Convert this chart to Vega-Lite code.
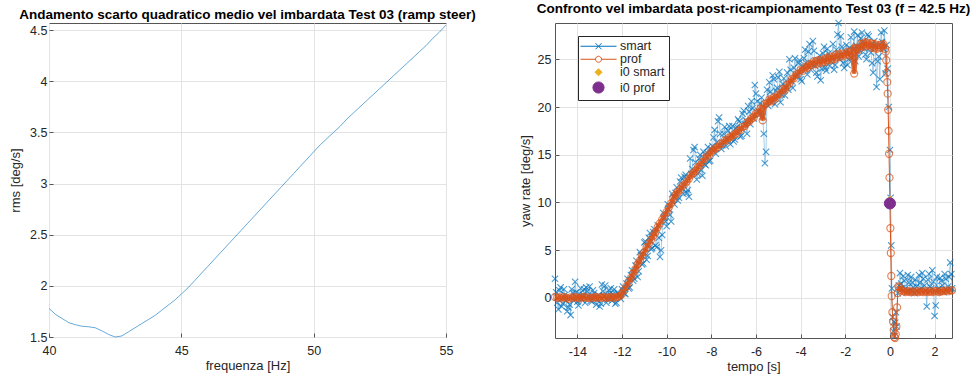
{
  "$schema": "https://vega.github.io/schema/vega-lite/v6.json",
  "background": "white",
  "padding": {"left": 9, "top": 1, "right": 0, "bottom": 0},
  "autosize": {"type": "pad"},
  "bounds": "flush",
  "spacing": 109,
  "config": {
    "font": "Liberation Sans",
    "view": {"stroke": "#555555", "strokeWidth": 1},
    "axis": {
      "domain": false,
      "grid": true,
      "gridColor": "#e3e3e3",
      "gridWidth": 1,
      "tickColor": "#555555",
      "tickSize": -4,
      "labelFlush": false,
      "labelColor": "#262626",
      "labelFontSize": 12.5,
      "titleFontSize": 13,
      "titleFontWeight": "normal",
      "titleColor": "#262626",
      "labelPadding": 6
    },
    "title": {"fontSize": 13.5, "fontWeight": "bold", "anchor": "middle", "offset": 2, "color": "#000000"},
    "legend": {"labelFontSize": 12.5, "labelColor": "#262626"}
  },
  "datasets": {
    "rms": [
      {"f": 40.0, "rms": 1.78}, {"f": 40.25, "rms": 1.72}, {"f": 40.5, "rms": 1.68}, {"f": 40.75, "rms": 1.64},
      {"f": 41.0, "rms": 1.62}, {"f": 41.25, "rms": 1.605}, {"f": 41.5, "rms": 1.6}, {"f": 41.75, "rms": 1.59},
      {"f": 42.0, "rms": 1.56}, {"f": 42.25, "rms": 1.525}, {"f": 42.5, "rms": 1.5}, {"f": 42.75, "rms": 1.51},
      {"f": 43.0, "rms": 1.55}, {"f": 43.25, "rms": 1.59}, {"f": 43.5, "rms": 1.63}, {"f": 43.75, "rms": 1.67},
      {"f": 44.0, "rms": 1.71}, {"f": 44.25, "rms": 1.76}, {"f": 44.5, "rms": 1.81}, {"f": 44.75, "rms": 1.86},
      {"f": 45.0, "rms": 1.92}, {"f": 45.25, "rms": 1.98}, {"f": 45.5, "rms": 2.05}, {"f": 45.75, "rms": 2.12},
      {"f": 46.0, "rms": 2.19}, {"f": 46.25, "rms": 2.26}, {"f": 46.5, "rms": 2.33}, {"f": 46.75, "rms": 2.4},
      {"f": 47.0, "rms": 2.47}, {"f": 47.25, "rms": 2.54}, {"f": 47.5, "rms": 2.61}, {"f": 47.75, "rms": 2.68},
      {"f": 48.0, "rms": 2.75}, {"f": 48.25, "rms": 2.82}, {"f": 48.5, "rms": 2.89}, {"f": 48.75, "rms": 2.96},
      {"f": 49.0, "rms": 3.03}, {"f": 49.25, "rms": 3.1}, {"f": 49.5, "rms": 3.17}, {"f": 49.75, "rms": 3.24},
      {"f": 50.0, "rms": 3.31}, {"f": 50.25, "rms": 3.38}, {"f": 50.5, "rms": 3.44}, {"f": 50.75, "rms": 3.5},
      {"f": 51.0, "rms": 3.56}, {"f": 51.25, "rms": 3.63}, {"f": 51.5, "rms": 3.69}, {"f": 51.75, "rms": 3.75},
      {"f": 52.0, "rms": 3.81}, {"f": 52.25, "rms": 3.87}, {"f": 52.5, "rms": 3.93}, {"f": 52.75, "rms": 3.99},
      {"f": 53.0, "rms": 4.05}, {"f": 53.25, "rms": 4.11}, {"f": 53.5, "rms": 4.17}, {"f": 53.75, "rms": 4.23},
      {"f": 54.0, "rms": 4.29}, {"f": 54.25, "rms": 4.35}, {"f": 54.5, "rms": 4.42}, {"f": 54.75, "rms": 4.48},
      {"f": 55.0, "rms": 4.55}
    ],
    "smart": [
      {"t": -15.0, "v": 2.0}, {"t": -14.9, "v": -0.5}, {"t": -14.8, "v": 0.8}, {"t": -14.7, "v": -0.9},
      {"t": -14.6, "v": 0.9}, {"t": -14.5, "v": -0.3}, {"t": -14.4, "v": -1.0}, {"t": -14.3, "v": -1.8},
      {"t": -14.2, "v": 0.5}, {"t": -14.1, "v": 1.7}, {"t": -14.0, "v": -0.4}, {"t": -13.9, "v": 0.4},
      {"t": -13.8, "v": -0.2}, {"t": -13.7, "v": 0.9}, {"t": -13.6, "v": 1.1}, {"t": -13.5, "v": 0.2},
      {"t": -13.4, "v": -0.3}, {"t": -13.3, "v": 0.8}, {"t": -13.2, "v": 0.1}, {"t": -13.1, "v": -0.2},
      {"t": -13.0, "v": -0.9}, {"t": -12.9, "v": 1.4}, {"t": -12.8, "v": 0.2}, {"t": -12.7, "v": -0.5},
      {"t": -12.6, "v": 0.8}, {"t": -12.5, "v": 1.0}, {"t": -12.4, "v": 0.4}, {"t": -12.3, "v": -0.6},
      {"t": -12.2, "v": 0.6}, {"t": -12.1, "v": 0.2}, {"t": -12.0, "v": 0.9}, {"t": -11.9, "v": 0.5},
      {"t": -11.8, "v": 1.5}, {"t": -11.7, "v": 1.0}, {"t": -11.6, "v": 2.4}, {"t": -11.5, "v": 1.8},
      {"t": -11.4, "v": 3.4}, {"t": -11.3, "v": 2.2}, {"t": -11.2, "v": 4.8}, {"t": -11.1, "v": 3.5},
      {"t": -11.0, "v": 5.8}, {"t": -10.9, "v": 4.0}, {"t": -10.8, "v": 6.3}, {"t": -10.7, "v": 5.1},
      {"t": -10.6, "v": 6.9}, {"t": -10.5, "v": 5.5}, {"t": -10.4, "v": 7.6}, {"t": -10.3, "v": 4.3},
      {"t": -10.2, "v": 6.6}, {"t": -10.1, "v": 8.4}, {"t": -10.0, "v": 7.5}, {"t": -9.9, "v": 9.3},
      {"t": -9.8, "v": 8.0}, {"t": -9.7, "v": 10.6}, {"t": -9.6, "v": 11.0}, {"t": -9.5, "v": 10.2},
      {"t": -9.4, "v": 12.2}, {"t": -9.3, "v": 11.5}, {"t": -9.2, "v": 12.7}, {"t": -9.1, "v": 11.0},
      {"t": -9.0, "v": 10.6}, {"t": -8.9, "v": 13.0}, {"t": -8.8, "v": 15.5}, {"t": -8.7, "v": 14.2},
      {"t": -8.6, "v": 13.0}, {"t": -8.5, "v": 15.0}, {"t": -8.4, "v": 12.8}, {"t": -8.3, "v": 14.0},
      {"t": -8.2, "v": 15.2}, {"t": -8.1, "v": 14.3}, {"t": -8.0, "v": 15.6}, {"t": -7.9, "v": 16.8},
      {"t": -7.8, "v": 15.1}, {"t": -7.7, "v": 18.5}, {"t": -7.6, "v": 17.2}, {"t": -7.5, "v": 16.0},
      {"t": -7.4, "v": 17.9}, {"t": -7.3, "v": 16.6}, {"t": -7.2, "v": 18.0}, {"t": -7.1, "v": 17.1},
      {"t": -7.0, "v": 16.4}, {"t": -6.9, "v": 17.8}, {"t": -6.8, "v": 18.7}, {"t": -6.7, "v": 16.9},
      {"t": -6.6, "v": 19.3}, {"t": -6.5, "v": 18.2}, {"t": -6.4, "v": 17.2}, {"t": -6.3, "v": 19.5},
      {"t": -6.2, "v": 20.6}, {"t": -6.1, "v": 18.8}, {"t": -6.0, "v": 21.4}, {"t": -5.9, "v": 19.6},
      {"t": -5.8, "v": 20.4}, {"t": -5.7, "v": 19.0}, {"t": -5.65, "v": 17.2}, {"t": -5.6, "v": 14.1},
      {"t": -5.55, "v": 15.3}, {"t": -5.5, "v": 21.8}, {"t": -5.4, "v": 22.6}, {"t": -5.3, "v": 20.5},
      {"t": -5.2, "v": 22.9}, {"t": -5.1, "v": 21.7}, {"t": -5.0, "v": 23.1}, {"t": -4.9, "v": 20.5},
      {"t": -4.8, "v": 22.4}, {"t": -4.7, "v": 21.2}, {"t": -4.6, "v": 23.6}, {"t": -4.5, "v": 25.0},
      {"t": -4.4, "v": 22.7}, {"t": -4.3, "v": 24.1}, {"t": -4.2, "v": 23.2}, {"t": -4.1, "v": 24.6},
      {"t": -4.0, "v": 22.9}, {"t": -3.9, "v": 24.3}, {"t": -3.8, "v": 26.0}, {"t": -3.7, "v": 23.4},
      {"t": -3.6, "v": 26.6}, {"t": -3.5, "v": 24.5}, {"t": -3.4, "v": 25.9}, {"t": -3.3, "v": 23.6},
      {"t": -3.2, "v": 24.9}, {"t": -3.1, "v": 22.8}, {"t": -3.0, "v": 25.6}, {"t": -2.9, "v": 24.1},
      {"t": -2.8, "v": 26.1}, {"t": -2.7, "v": 24.3}, {"t": -2.6, "v": 25.2}, {"t": -2.5, "v": 23.9},
      {"t": -2.4, "v": 26.0}, {"t": -2.3, "v": 28.8}, {"t": -2.2, "v": 27.4}, {"t": -2.1, "v": 24.6},
      {"t": -2.0, "v": 25.8}, {"t": -1.9, "v": 24.4}, {"t": -1.8, "v": 26.2}, {"t": -1.7, "v": 25.1},
      {"t": -1.6, "v": 27.9}, {"t": -1.5, "v": 26.4}, {"t": -1.4, "v": 25.3}, {"t": -1.3, "v": 27.2},
      {"t": -1.2, "v": 26.8}, {"t": -1.1, "v": 25.5}, {"t": -1.0, "v": 27.6}, {"t": -0.9, "v": 26.2},
      {"t": -0.8, "v": 24.6}, {"t": -0.7, "v": 26.9}, {"t": -0.6, "v": 22.1}, {"t": -0.5, "v": 25.3},
      {"t": -0.4, "v": 27.8}, {"t": -0.3, "v": 26.1}, {"t": -0.25, "v": 28.0}, {"t": -0.2, "v": 23.5},
      {"t": -0.15, "v": 26.5}, {"t": -0.1, "v": 24.0}, {"t": -0.05, "v": 20.0}, {"t": 0.0, "v": 15.5},
      {"t": 0.03, "v": 10.5}, {"t": 0.06, "v": 5.5}, {"t": 0.09, "v": 1.0}, {"t": 0.12, "v": -2.0},
      {"t": 0.15, "v": -3.5}, {"t": 0.18, "v": -2.5}, {"t": 0.21, "v": -4.0}, {"t": 0.24, "v": -2.6},
      {"t": 0.27, "v": -1.5}, {"t": 0.3, "v": -3.0}, {"t": 0.35, "v": 0.5}, {"t": 0.4, "v": 1.3},
      {"t": 0.45, "v": 2.6}, {"t": 0.5, "v": 1.5}, {"t": 0.6, "v": 2.3}, {"t": 0.7, "v": 1.0},
      {"t": 0.8, "v": 2.4}, {"t": 0.9, "v": 0.8}, {"t": 1.0, "v": 1.6}, {"t": 1.1, "v": 0.5},
      {"t": 1.2, "v": 1.2}, {"t": 1.3, "v": 2.4}, {"t": 1.4, "v": 1.0}, {"t": 1.5, "v": 2.0},
      {"t": 1.6, "v": 0.8}, {"t": 1.7, "v": 1.9}, {"t": 1.8, "v": 1.2}, {"t": 1.9, "v": 2.9},
      {"t": 2.0, "v": -1.9}, {"t": 2.05, "v": -0.8}, {"t": 2.1, "v": 2.2}, {"t": 2.2, "v": 1.0},
      {"t": 2.3, "v": 1.8}, {"t": 2.4, "v": 0.6}, {"t": 2.5, "v": 2.0}, {"t": 2.6, "v": 1.2},
      {"t": 2.7, "v": 3.7}, {"t": 2.75, "v": 2.5}, {"t": 2.78, "v": 1.0},
      {"t": -14.95, "v": 0.6}, {"t": -14.85, "v": -1.2}, {"t": -14.75, "v": 1.1}, {"t": -14.65, "v": -0.6},
      {"t": -14.55, "v": 0.3}, {"t": -14.45, "v": -1.4}, {"t": -14.35, "v": -0.7}, {"t": -14.25, "v": 0.9},
      {"t": -14.15, "v": -0.3}, {"t": -14.05, "v": 0.6}, {"t": -13.95, "v": -0.8}, {"t": -13.85, "v": 1.0},
      {"t": -13.75, "v": 0.3}, {"t": -13.65, "v": -0.5}, {"t": -13.55, "v": 0.7}, {"t": -13.45, "v": 1.2},
      {"t": -13.35, "v": -0.4}, {"t": -13.25, "v": 0.5}, {"t": -13.15, "v": -0.7}, {"t": -13.05, "v": 0.3},
      {"t": -12.95, "v": -0.6}, {"t": -12.85, "v": 0.7}, {"t": -12.75, "v": 1.3}, {"t": -12.65, "v": -0.2},
      {"t": -12.55, "v": 0.4}, {"t": -12.45, "v": -0.3}, {"t": -12.35, "v": 0.9}, {"t": -12.25, "v": -0.5},
      {"t": -12.15, "v": 0.3}, {"t": -12.05, "v": -0.1},
      {"t": -11.95, "v": 1.2}, {"t": -11.85, "v": 0.4}, {"t": -11.75, "v": 2.0}, {"t": -11.65, "v": 1.1},
      {"t": -11.55, "v": 2.9}, {"t": -11.45, "v": 2.0}, {"t": -11.35, "v": 3.9}, {"t": -11.25, "v": 2.8},
      {"t": -11.15, "v": 4.5}, {"t": -11.05, "v": 3.6}, {"t": -10.95, "v": 5.9}, {"t": -10.85, "v": 4.4},
      {"t": -10.75, "v": 6.8}, {"t": -10.65, "v": 5.2}, {"t": -10.55, "v": 7.2}, {"t": -10.45, "v": 5.3},
      {"t": -10.35, "v": 6.3}, {"t": -10.25, "v": 5.0}, {"t": -10.15, "v": 8.9}, {"t": -10.05, "v": 8.0},
      {"t": -9.95, "v": 9.8}, {"t": -9.85, "v": 8.7}, {"t": -9.75, "v": 10.9}, {"t": -9.65, "v": 9.8},
      {"t": -9.55, "v": 11.6}, {"t": -9.45, "v": 10.5}, {"t": -9.35, "v": 12.6}, {"t": -9.25, "v": 10.9},
      {"t": -9.15, "v": 12.9}, {"t": -9.05, "v": 11.3}, {"t": -8.95, "v": 14.6}, {"t": -8.85, "v": 13.5},
      {"t": -8.75, "v": 15.8}, {"t": -8.65, "v": 12.4}, {"t": -8.55, "v": 14.6}, {"t": -8.45, "v": 13.4},
      {"t": -8.35, "v": 15.3}, {"t": -8.25, "v": 13.9}, {"t": -8.15, "v": 15.8}, {"t": -8.05, "v": 14.4},
      {"t": -7.95, "v": 15.9}, {"t": -7.85, "v": 17.6}, {"t": -7.75, "v": 16.3}, {"t": -7.65, "v": 18.9},
      {"t": -7.55, "v": 15.6}, {"t": -7.45, "v": 17.2}, {"t": -7.35, "v": 15.9}, {"t": -7.25, "v": 17.5},
      {"t": -7.15, "v": 16.1}, {"t": -7.05, "v": 18.0}, {"t": -6.95, "v": 16.6}, {"t": -6.85, "v": 17.9},
      {"t": -6.75, "v": 18.5}, {"t": -6.65, "v": 17.0}, {"t": -6.55, "v": 19.6}, {"t": -6.45, "v": 18.6},
      {"t": -6.35, "v": 20.1}, {"t": -6.25, "v": 18.2}, {"t": -6.15, "v": 19.9}, {"t": -6.05, "v": 22.3},
      {"t": -5.95, "v": 20.6}, {"t": -5.85, "v": 19.2}, {"t": -5.75, "v": 21.0}, {"t": -5.45, "v": 20.1},
      {"t": -5.35, "v": 21.6}, {"t": -5.25, "v": 23.3}, {"t": -5.15, "v": 20.3}, {"t": -5.05, "v": 22.0},
      {"t": -4.95, "v": 23.7}, {"t": -4.85, "v": 21.3}, {"t": -4.75, "v": 23.0}, {"t": -4.65, "v": 22.1},
      {"t": -4.55, "v": 21.8}, {"t": -4.45, "v": 23.9}, {"t": -4.35, "v": 22.0}, {"t": -4.25, "v": 25.1},
      {"t": -4.15, "v": 23.4}, {"t": -4.05, "v": 24.9},
      {"t": -3.95, "v": 22.7}, {"t": -3.85, "v": 25.1}, {"t": -3.75, "v": 24.6}, {"t": -3.65, "v": 25.8},
      {"t": -3.55, "v": 23.9}, {"t": -3.45, "v": 26.9}, {"t": -3.35, "v": 24.3}, {"t": -3.25, "v": 23.2},
      {"t": -3.15, "v": 25.4}, {"t": -3.05, "v": 24.0}, {"t": -2.95, "v": 26.3}, {"t": -2.85, "v": 23.8},
      {"t": -2.75, "v": 25.6}, {"t": -2.65, "v": 24.8}, {"t": -2.55, "v": 26.6}, {"t": -2.45, "v": 24.4},
      {"t": -2.35, "v": 27.6}, {"t": -2.25, "v": 25.0}, {"t": -2.15, "v": 26.3}, {"t": -2.05, "v": 24.1},
      {"t": -1.95, "v": 26.5}, {"t": -1.85, "v": 25.0}, {"t": -1.75, "v": 27.3}, {"t": -1.65, "v": 26.0},
      {"t": -1.55, "v": 24.8}, {"t": -1.45, "v": 27.5}, {"t": -1.35, "v": 25.9}, {"t": -1.25, "v": 27.8},
      {"t": -1.15, "v": 26.1}, {"t": -1.05, "v": 25.0}, {"t": -0.95, "v": 27.4}, {"t": -0.85, "v": 25.7},
      {"t": -0.75, "v": 23.6}, {"t": -0.65, "v": 26.4}, {"t": -0.55, "v": 24.8}, {"t": -0.45, "v": 22.9},
      {"t": -0.35, "v": 26.8},
      {"t": 0.55, "v": 1.0}, {"t": 0.65, "v": 1.8}, {"t": 0.75, "v": 0.6}, {"t": 0.85, "v": 1.6},
      {"t": 0.95, "v": 2.2}, {"t": 1.05, "v": 1.1}, {"t": 1.15, "v": 1.9}, {"t": 1.25, "v": 0.7},
      {"t": 1.35, "v": 1.6}, {"t": 1.45, "v": 2.6}, {"t": 1.55, "v": 1.3}, {"t": 1.65, "v": -0.9},
      {"t": 1.75, "v": 2.5}, {"t": 1.85, "v": 1.0}, {"t": 1.95, "v": 1.7}, {"t": 2.15, "v": 0.9},
      {"t": 2.25, "v": 2.1}, {"t": 2.35, "v": 1.3}, {"t": 2.45, "v": 2.5}, {"t": 2.55, "v": 0.8},
      {"t": 2.65, "v": 2.2}
    ],
    "prof": [
      {"t": -15.0, "v": 0.1}, {"t": -14.9, "v": 0.0}, {"t": -14.8, "v": 0.05}, {"t": -14.7, "v": -0.05},
      {"t": -14.6, "v": 0.1}, {"t": -14.5, "v": 0.0}, {"t": -14.4, "v": -0.1}, {"t": -14.3, "v": 0.05},
      {"t": -14.2, "v": 0.0}, {"t": -14.1, "v": 0.1}, {"t": -14.0, "v": 0.0}, {"t": -13.9, "v": -0.05},
      {"t": -13.8, "v": 0.05}, {"t": -13.7, "v": 0.1}, {"t": -13.6, "v": 0.0}, {"t": -13.5, "v": 0.05},
      {"t": -13.4, "v": -0.05}, {"t": -13.3, "v": 0.0}, {"t": -13.2, "v": 0.1}, {"t": -13.1, "v": 0.0},
      {"t": -13.0, "v": 0.05}, {"t": -12.9, "v": 0.0}, {"t": -12.8, "v": 0.1}, {"t": -12.7, "v": 0.0},
      {"t": -12.6, "v": 0.05}, {"t": -12.5, "v": 0.1}, {"t": -12.4, "v": 0.0}, {"t": -12.3, "v": 0.05},
      {"t": -12.2, "v": 0.1}, {"t": -12.1, "v": 0.2}, {"t": -12.0, "v": 0.4}, {"t": -11.9, "v": 0.8},
      {"t": -11.8, "v": 1.2}, {"t": -11.7, "v": 1.7}, {"t": -11.6, "v": 2.1}, {"t": -11.5, "v": 2.6},
      {"t": -11.4, "v": 3.0}, {"t": -11.3, "v": 3.5}, {"t": -11.2, "v": 3.9}, {"t": -11.1, "v": 4.4},
      {"t": -11.0, "v": 4.8}, {"t": -10.9, "v": 5.3}, {"t": -10.8, "v": 5.7}, {"t": -10.7, "v": 6.1},
      {"t": -10.6, "v": 6.5}, {"t": -10.5, "v": 6.9}, {"t": -10.4, "v": 7.4}, {"t": -10.3, "v": 7.8},
      {"t": -10.2, "v": 8.2}, {"t": -10.1, "v": 8.6}, {"t": -10.0, "v": 9.0}, {"t": -9.9, "v": 9.5},
      {"t": -9.8, "v": 9.9}, {"t": -9.7, "v": 10.4}, {"t": -9.6, "v": 10.8}, {"t": -9.5, "v": 11.1},
      {"t": -9.4, "v": 11.3}, {"t": -9.3, "v": 11.7}, {"t": -9.2, "v": 11.9}, {"t": -9.1, "v": 12.2},
      {"t": -9.0, "v": 12.5}, {"t": -8.9, "v": 12.9}, {"t": -8.8, "v": 13.1}, {"t": -8.7, "v": 13.3},
      {"t": -8.6, "v": 13.7}, {"t": -8.5, "v": 13.9}, {"t": -8.4, "v": 14.2}, {"t": -8.3, "v": 14.6},
      {"t": -8.2, "v": 14.8}, {"t": -8.1, "v": 15.0}, {"t": -8.0, "v": 15.3}, {"t": -7.9, "v": 15.5},
      {"t": -7.8, "v": 15.7}, {"t": -7.7, "v": 15.8}, {"t": -7.6, "v": 16.1}, {"t": -7.5, "v": 16.2},
      {"t": -7.4, "v": 16.5}, {"t": -7.3, "v": 16.5}, {"t": -7.2, "v": 16.8}, {"t": -7.1, "v": 16.9},
      {"t": -7.0, "v": 17.1}, {"t": -6.9, "v": 17.2}, {"t": -6.8, "v": 17.5}, {"t": -6.7, "v": 17.6},
      {"t": -6.6, "v": 17.9}, {"t": -6.5, "v": 18.0}, {"t": -6.4, "v": 18.4}, {"t": -6.3, "v": 18.5},
      {"t": -6.2, "v": 18.8}, {"t": -6.1, "v": 18.9}, {"t": -6.0, "v": 19.3}, {"t": -5.9, "v": 19.4},
      {"t": -5.8, "v": 19.8}, {"t": -5.7, "v": 18.6}, {"t": -5.6, "v": 20.3}, {"t": -5.5, "v": 20.4},
      {"t": -5.4, "v": 20.8}, {"t": -5.3, "v": 20.6}, {"t": -5.2, "v": 21.0}, {"t": -5.1, "v": 20.9},
      {"t": -5.0, "v": 21.3}, {"t": -4.9, "v": 21.4}, {"t": -4.8, "v": 21.9}, {"t": -4.7, "v": 21.8},
      {"t": -4.6, "v": 22.3}, {"t": -4.5, "v": 22.5}, {"t": -4.4, "v": 22.9}, {"t": -4.3, "v": 23.0},
      {"t": -4.2, "v": 23.4}, {"t": -4.1, "v": 23.5}, {"t": -4.0, "v": 23.9}, {"t": -3.9, "v": 23.8},
      {"t": -3.8, "v": 24.2}, {"t": -3.7, "v": 24.1}, {"t": -3.6, "v": 24.5}, {"t": -3.5, "v": 24.4},
      {"t": -3.4, "v": 24.8}, {"t": -3.3, "v": 24.5}, {"t": -3.2, "v": 24.9}, {"t": -3.1, "v": 24.6},
      {"t": -3.0, "v": 25.0}, {"t": -2.9, "v": 24.7}, {"t": -2.8, "v": 25.2}, {"t": -2.7, "v": 24.9},
      {"t": -2.6, "v": 25.3}, {"t": -2.5, "v": 25.0}, {"t": -2.4, "v": 25.5}, {"t": -2.3, "v": 25.2},
      {"t": -2.2, "v": 25.6}, {"t": -2.1, "v": 25.3}, {"t": -2.0, "v": 25.5}, {"t": -1.9, "v": 25.8},
      {"t": -1.8, "v": 25.4}, {"t": -1.7, "v": 25.9}, {"t": -1.6, "v": 23.5}, {"t": -1.5, "v": 26.2},
      {"t": -1.4, "v": 26.0}, {"t": -1.3, "v": 26.6}, {"t": -1.2, "v": 26.3}, {"t": -1.1, "v": 26.8},
      {"t": -1.0, "v": 26.4}, {"t": -0.9, "v": 26.7}, {"t": -0.8, "v": 26.2}, {"t": -0.7, "v": 26.6},
      {"t": -0.6, "v": 26.1}, {"t": -0.5, "v": 26.5}, {"t": -0.4, "v": 26.2}, {"t": -0.3, "v": 26.6},
      {"t": -0.22, "v": 26.1}, {"t": -0.19, "v": 25.8}, {"t": -0.165, "v": 24.9}, {"t": -0.14, "v": 23.6},
      {"t": -0.12, "v": 22.6}, {"t": -0.1, "v": 21.4}, {"t": -0.08, "v": 19.7}, {"t": -0.06, "v": 17.5},
      {"t": -0.04, "v": 15.1}, {"t": -0.02, "v": 12.6}, {"t": 0.0, "v": 9.9}, {"t": 0.02, "v": 7.3},
      {"t": 0.04, "v": 4.7}, {"t": 0.06, "v": 2.3}, {"t": 0.08, "v": 0.2}, {"t": 0.11, "v": -1.5},
      {"t": 0.14, "v": -2.5}, {"t": 0.17, "v": -3.4}, {"t": 0.2, "v": -4.1}, {"t": 0.23, "v": -4.2},
      {"t": 0.26, "v": -3.8}, {"t": 0.29, "v": -3.0}, {"t": 0.32, "v": -1.0}, {"t": 0.35, "v": 0.5},
      {"t": 0.38, "v": 1.2}, {"t": 0.42, "v": 1.1}, {"t": 0.5, "v": 0.8}, {"t": 0.6, "v": 0.7},
      {"t": 0.7, "v": 0.6}, {"t": 0.8, "v": 0.7}, {"t": 0.9, "v": 0.6}, {"t": 1.0, "v": 0.7},
      {"t": 1.1, "v": 0.6}, {"t": 1.2, "v": 0.7}, {"t": 1.3, "v": 0.6}, {"t": 1.4, "v": 0.7},
      {"t": 1.5, "v": 0.6}, {"t": 1.6, "v": 0.7}, {"t": 1.7, "v": 0.6}, {"t": 1.8, "v": 0.7},
      {"t": 1.9, "v": 0.6}, {"t": 2.0, "v": 0.7}, {"t": 2.1, "v": 0.7}, {"t": 2.2, "v": 0.6},
      {"t": 2.3, "v": 0.7}, {"t": 2.4, "v": 0.7}, {"t": 2.5, "v": 0.8}, {"t": 2.6, "v": 0.7},
      {"t": 2.7, "v": 0.8}, {"t": 2.78, "v": 0.8}
    ],
    "i0": [
      {"t": 0.0, "v": 10.3, "serie": "i0 smart"},
      {"t": 0.0, "v": 9.9, "serie": "i0 prof"}
    ]
  },
  "hconcat": [
    {
      "width": 397,
      "height": 314,
      "title": "Andamento scarto quadratico medio vel imbardata Test 03 (ramp steer)",
      "data": {"name": "rms"},
      "mark": {"type": "line", "color": "#0072BD", "strokeWidth": 1, "opacity": 0.6},
      "encoding": {
        "x": {"field": "f", "type": "quantitative", "title": "frequenza [Hz]",
              "scale": {"domain": [40, 55], "nice": false, "zero": false},
              "axis": {"values": [40, 45, 50, 55], "titlePadding": 3, "labelPadding": 11}},
        "y": {"field": "rms", "type": "quantitative", "title": "rms [deg/s]",
              "scale": {"domain": [1.5, 4.57], "nice": false, "zero": false},
              "axis": {"values": [1.5, 2, 2.5, 3, 3.5, 4, 4.5], "format": "~g", "titlePadding": 7}}
      }
    },
    {
      "width": 397,
      "height": 315,
      "title": "Confronto vel imbardata post-ricampionamento Test 03 (f = 42.5 Hz)",
      "layer": [
        {
          "data": {"name": "smart"},
          "mark": {"type": "line", "color": "#0072BD", "strokeWidth": 0.7, "opacity": 0.5},
          "encoding": {
            "x": {"field": "t", "type": "quantitative", "title": "tempo [s]",
                  "scale": {"domain": [-15, 2.78], "nice": false, "zero": false},
                  "axis": {"values": [-14, -12, -10, -8, -6, -4, -2, 0, 2], "labelExpr": "replace(datum.label, '\u2212', '-')", "titlePadding": 3, "labelPadding": 11}},
            "y": {"field": "v", "type": "quantitative", "title": "yaw rate [deg/s]",
                  "scale": {"domain": [-4.2, 28.8], "nice": false, "zero": false},
                  "axis": {"values": [0, 5, 10, 15, 20, 25], "titlePadding": 5, "labelPadding": 8}}
          }
        },
        {
          "data": {"name": "smart"},
          "mark": {"type": "point", "shape": "M-1,-1L1,1M-1,1L1,-1", "filled": false, "color": "#0072BD", "size": 40, "strokeWidth": 1.1},
          "encoding": {
            "x": {"field": "t", "type": "quantitative"},
            "y": {"field": "v", "type": "quantitative"}
          }
        },
        {
          "data": {"name": "prof"},
          "transform": [{"filter": "datum.t < -0.2"}],
          "mark": {"type": "line", "color": "#D95319", "strokeWidth": 4.5, "opacity": 0.85},
          "encoding": {
            "x": {"field": "t", "type": "quantitative"},
            "y": {"field": "v", "type": "quantitative"}
          }
        },
        {
          "data": {"name": "prof"},
          "transform": [{"filter": "datum.t > 0.36"}],
          "mark": {"type": "line", "color": "#D95319", "strokeWidth": 4.5, "opacity": 0.85},
          "encoding": {
            "x": {"field": "t", "type": "quantitative"},
            "y": {"field": "v", "type": "quantitative"}
          }
        },
        {
          "data": {"name": "prof"},
          "mark": {"type": "line", "color": "#D95319", "strokeWidth": 1},
          "encoding": {
            "x": {"field": "t", "type": "quantitative"},
            "y": {"field": "v", "type": "quantitative"}
          }
        },
        {
          "data": {"name": "prof"},
          "mark": {"type": "point", "shape": "circle", "filled": false, "color": "#D95319", "size": 50, "strokeWidth": 1.2},
          "encoding": {
            "x": {"field": "t", "type": "quantitative"},
            "y": {"field": "v", "type": "quantitative"}
          }
        },
        {
          "data": {"name": "i0"},
          "mark": {"type": "point", "strokeWidth": 1, "opacity": 1, "fillOpacity": 1},
          "encoding": {
            "x": {"field": "t", "type": "quantitative"},
            "y": {"field": "v", "type": "quantitative"},
            "shape": {"field": "serie", "type": "ordinal",
                      "scale": {"domain": ["smart", "prof", "i0 smart", "i0 prof"],
                                "range": ["M-6,0L6,0M-1,-1L1,1M-1,1L1,-1", "M-6,0L-1,0M1,0L6,0M-1,0A1,1 0 1,0 1,0A1,1 0 1,0 -1,0", "diamond", "circle"]},
                      "legend": {"title": null, "orient": "none", "legendX": 529, "legendY": 13,
                                 "fillColor": "white", "strokeColor": "#262626", "padding": 4,
                                 "symbolOffset": 10, "labelOffset": 15, "rowPadding": 0, "symbolStrokeWidth": 1}},
            "fill": {"field": "serie", "type": "ordinal",
                     "scale": {"domain": ["smart", "prof", "i0 smart", "i0 prof"],
                               "range": ["transparent", "transparent", "#EDB120", "#7E2F8E"]},
                     "legend": {"title": null}},
            "stroke": {"field": "serie", "type": "ordinal",
                       "scale": {"domain": ["smart", "prof", "i0 smart", "i0 prof"],
                                 "range": ["#0072BD", "#D95319", "#EDB120", "#7E2F8E"]},
                       "legend": {"title": null}},
            "size": {"field": "serie", "type": "ordinal",
                     "scale": {"type": "ordinal", "domain": ["smart", "prof", "i0 smart", "i0 prof"],
                               "range": [36, 36, 50, 125]},
                     "legend": {"title": null}}
          }
        }
      ]
    }
  ]
}
